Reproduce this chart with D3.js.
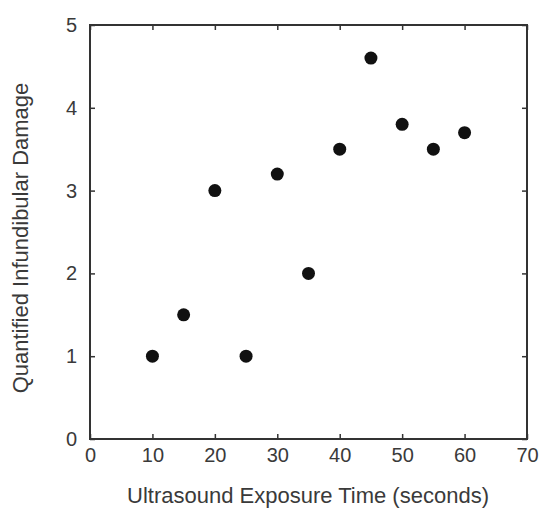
<!DOCTYPE html>
<html>
<head>
<meta charset="utf-8">
<script src="https://cdn.jsdelivr.net/npm/d3@7"></script>
<style>
  body { margin: 0; background: #fff; }
  svg text { font-family: "Liberation Sans", Arial, sans-serif; fill: #3a3a3a; }
</style>
</head>
<body>
<div id="chart"></div>
<script>
// exposure time (s) and damage score
const times = [10, 15, 20, 25, 30, 35, 40, 45, 50, 55, 60];
const damage = [1.0, 1.5, 3.0, 1.0, 3.2, 2.0, 3.5, 4.6, 3.8, 3.5, 3.7];
const xTicks = [0, 10, 20, 30, 40, 50, 60, 70];
const yTicks = [0, 1, 2, 3, 4, 5];

const totalW = 542, totalH = 509;
const margin = {top: 25, right: 15, bottom: 70, left: 90};
const W = totalW - margin.left - margin.right;
const H = totalH - margin.top - margin.bottom;

const svg = d3.select('#chart').append('svg')
  .attr('width', totalW)
  .attr('height', totalH);
const g = svg.append('g')
  .attr('transform', `translate(${margin.left} ${margin.top})`);

const x = d3.scaleLinear().domain([0, 70]).range([0, W]);
const y = d3.scaleLinear().domain([0, 5]).range([H, 0]);

const lineColor = '#333';

// axes with inward ticks; top/right just mirror the ticks
function styleAxis(sel) {
  sel.select('.domain').remove();
  sel.selectAll('.tick line').attr('stroke', lineColor).attr('stroke-width', 1.5);
  sel.selectAll('.tick text')
    .style('font-size', '20px')
    .attr('fill', '#3a3a3a');
}

g.append('g')
  .attr('transform', `translate(0 ${H})`)
  .call(d3.axisBottom(x).tickValues(xTicks).tickSizeInner(-5).tickPadding(9)
    .tickFormat(d3.format('d')))
  .call(styleAxis);

g.append('g')
  .call(d3.axisLeft(y).tickValues(yTicks).tickSizeInner(-5).tickPadding(13)
    .tickFormat(d3.format('d')))
  .call(styleAxis);

g.append('g')
  .call(d3.axisTop(x).tickValues(xTicks).tickSizeInner(-5).tickFormat(''))
  .call(styleAxis);

g.append('g')
  .attr('transform', `translate(${W} 0)`)
  .call(d3.axisRight(y).tickValues(yTicks).tickSizeInner(-5).tickFormat(''))
  .call(styleAxis);

// frame
g.append('rect')
  .attr('x', 0).attr('y', 0)
  .attr('width', W).attr('height', H)
  .attr('fill', 'none')
  .attr('stroke', lineColor)
  .attr('stroke-width', 2);

// points
const data = times.map((t, i) => ({t, v: damage[i]}));
g.selectAll('circle.pt')
  .data(data)
  .enter().append('circle')
  .attr('class', 'pt')
  .attr('cx', d => x(d.t))
  .attr('cy', d => y(d.v))
  .attr('r', 6.5)
  .attr('fill', '#111');

// titles
svg.append('text')
  .attr('x', 308)
  .attr('y', 503)
  .attr('text-anchor', 'middle')
  .style('font-size', '22px')
  .text('Ultrasound Exposure Time (seconds)');

svg.append('text')
  .attr('transform', `translate(28 238) rotate(-90)`)
  .attr('text-anchor', 'middle')
  .style('font-size', '22px')
  .text('Quantified Infundibular Damage');
</script>
</body>
</html>
